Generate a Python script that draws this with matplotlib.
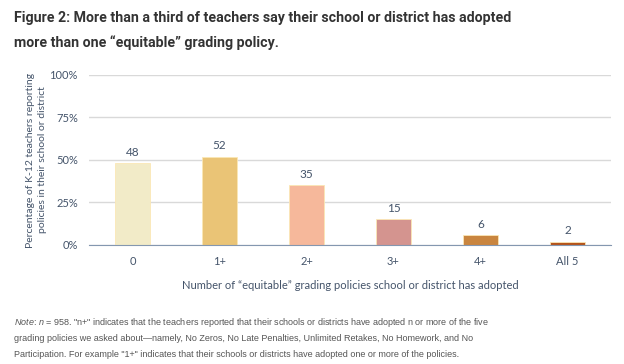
import matplotlib
matplotlib.use("Agg")
from matplotlib import pyplot as plt

# 数据
categories = ["0", "1+", "2+", "3+", "4+", "All 5"]
values = [48, 52, 35, 15, 6, 2]
colors = ["#F2EBC8", "#EAC476", "#F6B89B", "#D4948F", "#C9853F", "#B5541B"]
yticks = [0, 25, 50, 75, 100]

blue = "#44546A"

# 注释里的斜体
plt.rcParams["mathtext.fontset"] = "custom"
plt.rcParams["mathtext.rm"] = "Liberation Sans"
plt.rcParams["mathtext.it"] = "Liberation Sans:italic"

fig = plt.figure(figsize=(6.24, 3.64), dpi=100)
ax = fig.add_axes([0.1426, 0.327, 0.8365, 0.467])

x = range(len(categories))
ax.bar(x, values, width=0.4, color=colors, edgecolor="#FBE7B5", linewidth=0.6, zorder=3)

for xi, v in zip(x, values):
    ax.text(xi, v + 3, str(v), ha="center", va="bottom", fontsize=8.5,
            color=blue, family="Lato")

ax.set_xlim(-0.5, 5.5)
ax.set_ylim(0, 100)
ax.set_yticks(yticks)
ax.set_yticklabels([f"{t}%" for t in yticks], family="Lato", fontsize=8, color=blue)
ax.set_xticks(list(x))
ax.set_xticklabels(categories, family="Lato", fontsize=8, color=blue)
ax.tick_params(length=0, pad=8)
ax.grid(axis="y", color="#D9D9D9", linewidth=1, zorder=0)
for s in ["top", "right", "left"]:
    ax.spines[s].set_visible(False)
ax.spines["bottom"].set_color("#8497B0")
ax.spines["bottom"].set_zorder(4)

ax.set_xlabel("Number of \u201cequitable\u201d grading policies school or district has adopted",
              family="Lato", fontsize=8, color=blue, labelpad=9)
ax.set_ylabel("Percentage of K-12 teachers reporting\npolicies in their school or district",
              family="Lato", fontsize=7.5, color=blue, labelpad=2, linespacing=1.4)

# 标题
fig.text(0.022, 0.95, "Figure 2: More than a third of teachers say their school or district has adopted",
         family="Roboto", fontweight="bold", fontsize=10.2, color="#333333", va="center")
fig.text(0.022, 0.882, "more than one \u201cequitable\u201d grading policy.",
         family="Roboto", fontweight="bold", fontsize=10.2, color="#333333", va="center")

# 注释
note_color = "#555555"
note_lines = [
    "$\\mathit{Note}$: $\\mathit{n}$ = 958. \"n+\" indicates that the teachers reported that their schools or districts have adopted n or more of the five",
    "grading policies we asked about\u2014namely, No Zeros, No Late Penalties, Unlimited Retakes, No Homework, and No",
    "Participation. For example \"1+\" indicates that their schools or districts have adopted one or more of the policies.",
]
for yy, line in zip([0.113, 0.069, 0.027], note_lines):
    fig.text(0.022, yy, line, family="Liberation Sans", fontsize=6.5, color=note_color, va="center")

plt.savefig("out.png", dpi=100)
